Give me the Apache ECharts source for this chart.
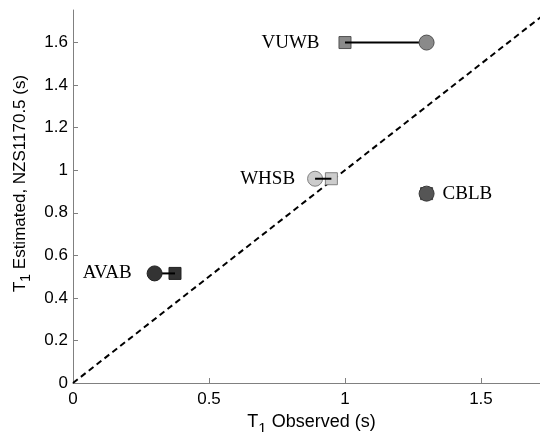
<!DOCTYPE html>
<html><head><meta charset="utf-8">
<script src="https://cdn.jsdelivr.net/npm/echarts@6/dist/echarts.min.js"></script>
<style>html,body{margin:0;padding:0;background:#fff}#c{width:540px;height:432px}</style>
</head><body><div id="c"></div>
<script>
var stations = ['VUWB', 'WHSB', 'CBLB', 'AVAB'];
var circleObs = [1.30, 0.89, 1.30, 0.30];
var squareObs = [1.00, 0.95, 1.30, 0.375];
var estimated = [1.60, 0.96, 0.89, 0.515];
var fills = ['#8a8a8a', '#cccccc', '#555555', '#333333'];
var edges = ['#505050', '#808080', '#3a3a3a', '#222222'];
var labelPos = ['left', 'left', 'right', 'left'];
var labelDist = [19, 12, 8, 15];
var xTicks = [0, 0.5, 1, 1.5];
var yTicks = [0, 0.2, 0.4, 0.6, 0.8, 1, 1.2, 1.4, 1.6];
var refLine = [[0, 0], [1.75, 1.75]];

var series = [{
  type: 'line', data: refLine, symbol: 'none', silent: true, z: 1,
  lineStyle: { color: '#000', width: 2, type: [6, 4] }
}];
stations.forEach(function (s, i) {
  var leftIsCircle = circleObs[i] <= squareObs[i];
  var lbl = {
    show: true, formatter: s, position: labelPos[i], distance: labelDist[i],
    fontFamily: 'Liberation Serif', fontSize: 19, color: '#000'
  };
  series.push({
    type: 'scatter', symbol: 'rect', symbolSize: 12, z: 2,
    data: [{ value: [squareObs[i], estimated[i]], label: leftIsCircle ? { show: false } : lbl }],
    itemStyle: { color: fills[i], borderColor: edges[i], borderWidth: 1, opacity: 1 }
  });
  series.push({
    type: 'line', symbol: 'none', z: 3,
    data: [[circleObs[i], estimated[i]], [squareObs[i], estimated[i]]],
    lineStyle: { color: '#000', width: 2 }
  });
  series.push({
    type: 'scatter', symbol: 'circle', symbolSize: 15, z: i === 1 ? 2 : 4,
    data: [{ value: [circleObs[i], estimated[i]], label: leftIsCircle ? lbl : { show: false } }],
    itemStyle: { color: fills[i], borderColor: edges[i], borderWidth: 1, opacity: 1 }
  });
});

var chart = echarts.init(document.getElementById('c'));
chart.setOption({
  animation: false,
  backgroundColor: '#fff',
  grid: { left: 73, right: 0, top: 10, bottom: 49, containLabel: false, outerBoundsMode: 'none' },
  xAxis: {
    type: 'value', min: 0, max: 1.717, interval: 0.5,
    axisLine: { lineStyle: { color: '#808080', width: 1 } },
    axisTick: { inside: true, length: 5, lineStyle: { color: '#808080' } },
    splitLine: { show: false },
    axisLabel: {
      color: '#000', fontSize: 17, fontFamily: 'Liberation Sans', margin: 8,
      showMaxLabel: false,
      formatter: function (v) { return xTicks.indexOf(+v.toFixed(2)) >= 0 ? String(+v.toFixed(2)) : ''; }
    },
    name: '{a|T}{s|1}{a| Observed (s)}',
    nameLocation: 'middle', nameGap: 22,
    nameTextStyle: {
      padding: [0, 0, 0, 10],
      rich: {
        a: { fontSize: 18, fontFamily: 'Liberation Sans', color: '#000' },
        s: { fontSize: 15, fontFamily: 'Liberation Sans', color: '#000', padding: [13, 0, 0, 0] }
      }
    }
  },
  yAxis: {
    type: 'value', min: 0, max: 1.753, interval: 0.2,
    axisLine: { show: true, lineStyle: { color: '#808080', width: 1 } },
    axisTick: { show: true, inside: true, length: 5, lineStyle: { color: '#808080' } },
    splitLine: { show: false },
    axisLabel: {
      color: '#000', fontSize: 17, fontFamily: 'Liberation Sans', margin: 5,
      showMaxLabel: false,
      formatter: function (v) { return yTicks.indexOf(+v.toFixed(2)) >= 0 ? String(+v.toFixed(2)) : ''; }
    },
    name: '{a|T}{s|1}{a| Estimated, NZS1170.5 (s)}',
    nameLocation: 'middle', nameGap: 34,
    nameTextStyle: {
      padding: [0, 0, 0, 26],
      rich: {
        a: { fontSize: 17, fontFamily: 'Liberation Sans', color: '#000' },
        s: { fontSize: 14, fontFamily: 'Liberation Sans', color: '#000', padding: [12, 0, 0, 0] }
      }
    }
  },
  series: series
});
</script></body></html>
